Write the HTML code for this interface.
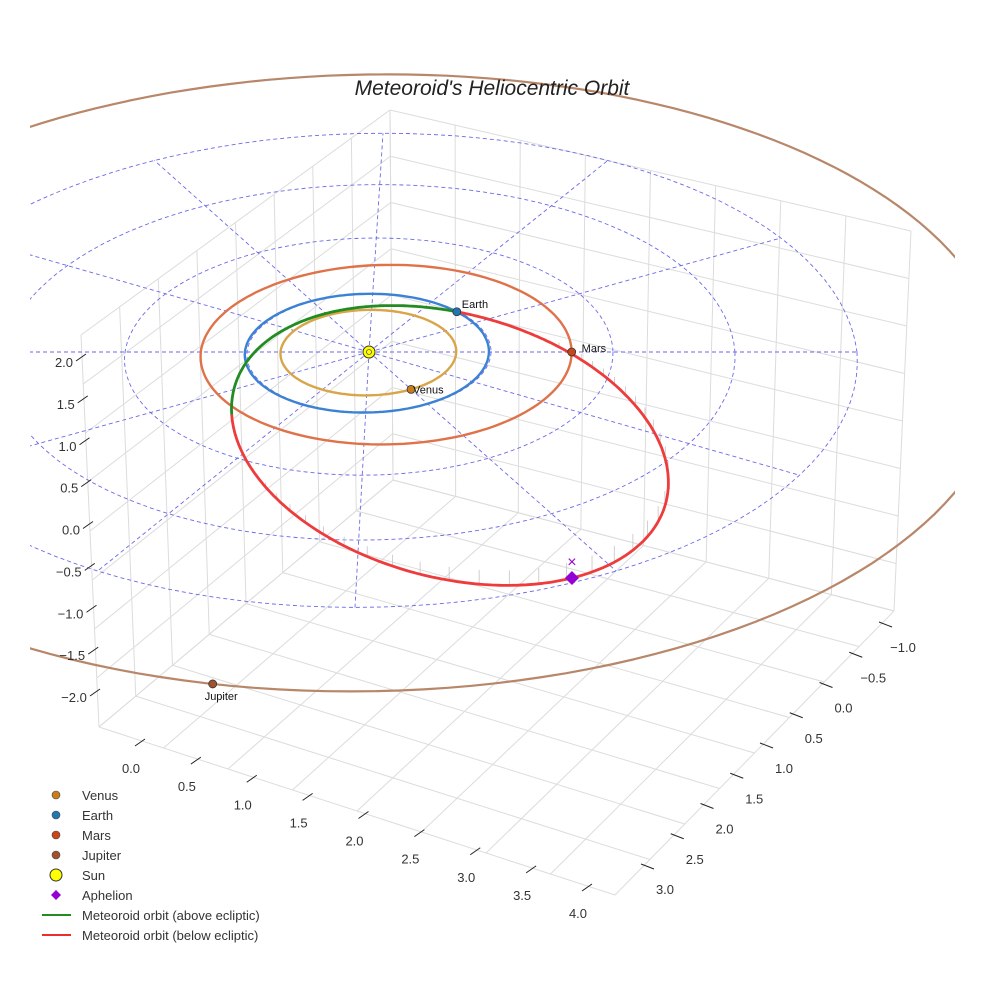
<!DOCTYPE html>
<html><head><meta charset="utf-8"><style>
html,body{margin:0;padding:0;background:#fff;}
svg{display:block;font-family:"Liberation Sans",sans-serif;}
</style></head><body>
<svg id="chart" width="984" height="984" viewBox="0 0 984 984" xmlns="http://www.w3.org/2000/svg">
<defs><clipPath id="clip"><rect x="30" y="0" width="925" height="984"/></clipPath></defs>
<rect width="984" height="984" fill="#fff"/>
<g id="box"></g>
<g id="plot" clip-path="url(#clip)"></g>
<g id="ticks"></g>
<text x="492" y="95" text-anchor="middle" font-size="21" font-style="italic" fill="#222">Meteoroid's Heliocentric Orbit</text>
<g id="legend"></g>
</svg>
<script>
// ---- data ----
const planetNames = ['Venus','Earth','Mars','Jupiter'];
const planetRadii = [0.72, 1.0, 1.52, 5.2];
const planetEcc = [0.007, 0.017, 0.093, 0.0];
const planetPeriAngle = [0, 0, 180, 0];
const planetAngles = [60, -44, 0, 101.5];
const ringRadii = [1, 2, 3, 4];
const spokeAngles = [0,30,60,90,120,150,180,210,240,270,300,330];
const spokeLength = 4;
const meteorP = 1.19;
const meteorE = 0.68;
const meteorPeri = 243.5;
const meteorIncl = 3.1;
const meteorNode = -43.8;
const xTickLabels = ['0.0','0.5','1.0','1.5','2.0','2.5','3.0','3.5','4.0'];
const yTickLabels = ['−1.0','−0.5','0.0','0.5','1.0','1.5','2.0','2.5','3.0'];
const zTickLabels = ['2.0','1.5','1.0','0.5','0.0','−0.5','−1.0','−1.5','−2.0'];

// ---- projection ----
const SX=369, SY=352, KX=122, KY=59.5, KFAR=0.022, KNEAR=0.017, SHEAR=-3.5, KZ=84;
function proj(u,v,z){ const d=1-(v<0?KFAR:KNEAR)*v; return [SX+u*KX/d+SHEAR*v, SY+v*KY/d-(z||0)*KZ]; }
const NS='http://www.w3.org/2000/svg';
function mk(tag,attrs,parent){const e=document.createElementNS(NS,tag);for(const k in attrs)e.setAttribute(k,attrs[k]);parent.appendChild(e);return e;}
function pts(arr){return arr.map(p=>p[0].toFixed(1)+','+p[1].toFixed(1)).join(' ');}
const rad=Math.PI/180;
const plot=document.getElementById('plot'), box=document.getElementById('box'), ticks=document.getElementById('ticks'), legend=document.getElementById('legend');

// ---- box grid ----
function lerp(a,b,t){return [a[0]+(b[0]-a[0])*t,a[1]+(b[1]-a[1])*t];}
function panel(tl,tr,br,bl,name){
  for(let i=0;i<9;i++){const t=i/8;
    const a=lerp(tl,tr,t), b=lerp(bl,br,t);
    let l=mk('line',{x1:a[0],y1:a[1],x2:b[0],y2:b[1],stroke:'#dcdcdc','stroke-width':1},box);
    
    
    const c=lerp(tl,bl,t), d=lerp(tr,br,t);
    l=mk('line',{x1:c[0],y1:c[1],x2:d[0],y2:d[1],stroke:'#dcdcdc','stroke-width':1},box);
    
    
  }
}
panel([81,335],[390,110],[393,480],[99,727],'left-wall');
panel([390,110],[911,231],[894,611],[393,480],'right-wall');
panel([393,480],[894,611],[615,895],[99,727],'floor');

// ---- ecliptic polar grid ----
ringRadii.forEach(r=>{
  const a=[];for(let t=0;t<=360;t+=3)a.push(proj(r*Math.cos(t*rad),r*Math.sin(t*rad),0));
  const e=mk('polyline',{points:pts(a),fill:'none',stroke:'#6a6ae8','stroke-width':0.9,'stroke-dasharray':'4,3'},plot);
  
  
});
spokeAngles.forEach(t=>{
  const a=proj(0,0,0), b=proj(spokeLength*Math.cos(t*rad),spokeLength*Math.sin(t*rad),0);
  const e=mk('line',{x1:a[0],y1:a[1],x2:b[0],y2:b[1],stroke:'#6a6ae8','stroke-width':0.9,'stroke-dasharray':'4,3'},plot);
  
  
});

// ---- planet orbits ----
const orbitColors=['#d8a548','#3b82d4','#e0724a','#b8876a'];
const planetColors=['#c97c1c','#1f77b4','#c8461a','#a0522d'];
function planetR(i,t){const a=planetRadii[i],e=planetEcc[i];return a*(1-e*e)/(1+e*Math.cos((t-planetPeriAngle[i])*rad));}
planetNames.forEach((n,i)=>{
  const a=[];for(let t=0;t<=360;t+=2){const r=planetR(i,t);a.push(proj(r*Math.cos(t*rad),r*Math.sin(t*rad),0));}
  const e=mk('polyline',{points:pts(a),fill:'none',stroke:orbitColors[i],'stroke-width':i==3?2.2:2.4},plot);
  
  
});

// ---- meteoroid orbit ----
function meteor(t){const r=meteorP/(1+meteorE*Math.cos((t-meteorPeri)*rad));
  const z=-r*Math.sin(meteorIncl*rad)*Math.sin((t-meteorNode)*rad);
  return [r*Math.cos(t*rad),r*Math.sin(t*rad),z];}
let segs=[],cur=null,curSign=null;
for(let t=meteorNode-180;t<=meteorNode+180.01;t+=1){
  const m=meteor(t);const s=m[2]>=0;
  if(s!==curSign){if(cur)cur.pts.push(proj(m[0],m[1],m[2]));cur={above:s,pts:[]};segs.push(cur);curSign=s;}
  cur.pts.push(proj(m[0],m[1],m[2]));
}
for(let t=meteorNode+10;t<meteorNode+175;t+=3.5){
  const m=meteor(t);const a=proj(m[0],m[1],0),b=proj(m[0],m[1],m[2]);
  if(Math.abs(a[1]-b[1])<4)continue;
  const e=mk('line',{x1:a[0],y1:a[1],x2:b[0],y2:b[1],stroke:'#c4c4c4','stroke-width':0.8},plot);
  
  
}
segs.forEach(s=>{
  const e=mk('polyline',{points:pts(s.pts),fill:'none',stroke:s.above?'#228b22':'#ee3b3b','stroke-width':2.8,'stroke-linejoin':'round'},plot);
  
  
});

// ---- aphelion ----
{const t=meteorPeri+180, m=meteor(t);
 const g=proj(m[0],m[1],0), p=proj(m[0],m[1],m[2]);
 const gx=mk('text',{x:g[0],y:g[1]+5,'text-anchor':'middle','font-size':16,fill:'#9400d3'},plot);gx.textContent='×';
 
 
 const d=mk('polygon',{points:`${p[0]},${p[1]-7} ${p[0]+7},${p[1]} ${p[0]},${p[1]+7} ${p[0]-7},${p[1]}`,fill:'#9400d3'},plot);
 
 }

// ---- planets ----
const labelOff=[[2,4],[5,-4],[10,0],[-8,16]];
planetNames.forEach((n,i)=>{
  const t=planetAngles[i],r=planetR(i,t);const p=proj(r*Math.cos(t*rad),r*Math.sin(t*rad),0);
  const c=mk('circle',{cx:p[0],cy:p[1],r:4,fill:planetColors[i],stroke:'#333','stroke-width':0.8},plot);
  
  
  const tx=mk('text',{x:p[0]+labelOff[i][0],y:p[1]+labelOff[i][1],'font-size':11,fill:'#111'},plot);tx.textContent=n;
  
  
});
{const s=proj(0,0,0);
 const c=mk('circle',{cx:s[0],cy:s[1],r:6,fill:'#ffff00',stroke:'#333','stroke-width':1},plot);
 
 
 const c2=mk('circle',{cx:s[0],cy:s[1],r:2.5,fill:'none',stroke:'#555','stroke-width':0.8},plot);
 
 }

// ---- tick labels ----
function tickLabel(txt,x,y,name){const e=mk('text',{x:x,y:y+5,'text-anchor':'middle','font-size':13,fill:'#333'},ticks);e.textContent=txt;
  
  }
function tickMark(x1,y1,x2,y2,name){const e=mk('line',{x1,y1,x2,y2,stroke:'#222','stroke-width':1},ticks);
  
  }
zTickLabels.forEach((s,i)=>{const t=i/8;const ey=362+t*335;const ex=84+t*14;
  tickLabel(s,ex-(s.length>3?24:20),ey,'z-tick-label');
  tickMark(ex-8,ey-1,ex+2,ey-8,'z-tick');});
xTickLabels.forEach((s,i)=>{const t=i/8;const lx=131+t*447, ly=768+t*145;
  tickLabel(s,lx,ly,'x-tick-label');
  tickMark(lx+4,ly-22,lx+14,ly-29,'x-tick');});
yTickLabels.forEach((s,i)=>{const t=i/8;const lx=903-t*238, ly=647+t*242;
  tickLabel(s,lx,ly,'y-tick-label');
  tickMark(lx-24,ly-25,lx-11,ly-20,'y-tick');});

// ---- legend ----
const legendLabels=['Venus','Earth','Mars','Jupiter','Sun','Aphelion','Meteoroid orbit (above ecliptic)','Meteoroid orbit (below ecliptic)'];
legendLabels.forEach((s,i)=>{const y=795+i*20;
  let m;
  if(i<4){m=mk('circle',{cx:56,cy:y,r:4,fill:planetColors[i],stroke:'#444','stroke-width':0.6},legend);}
  else if(i==4){m=mk('circle',{cx:56,cy:y,r:6,fill:'#ffff00',stroke:'#333','stroke-width':1},legend);}
  else if(i==5){m=mk('polygon',{points:`56,${y-5} 61,${y} 56,${y+5} 51,${y}`,fill:'#9400d3'},legend);}
  else {m=mk('line',{x1:42,y1:y,x2:71,y2:y,stroke:i==6?'#228b22':'#ee2c2c','stroke-width':2},legend);}
  
  
  const t=mk('text',{x:82,y:y+5,'font-size':13,fill:'#333'},legend);t.textContent=s;
  
  
});
</script>
</body></html>
